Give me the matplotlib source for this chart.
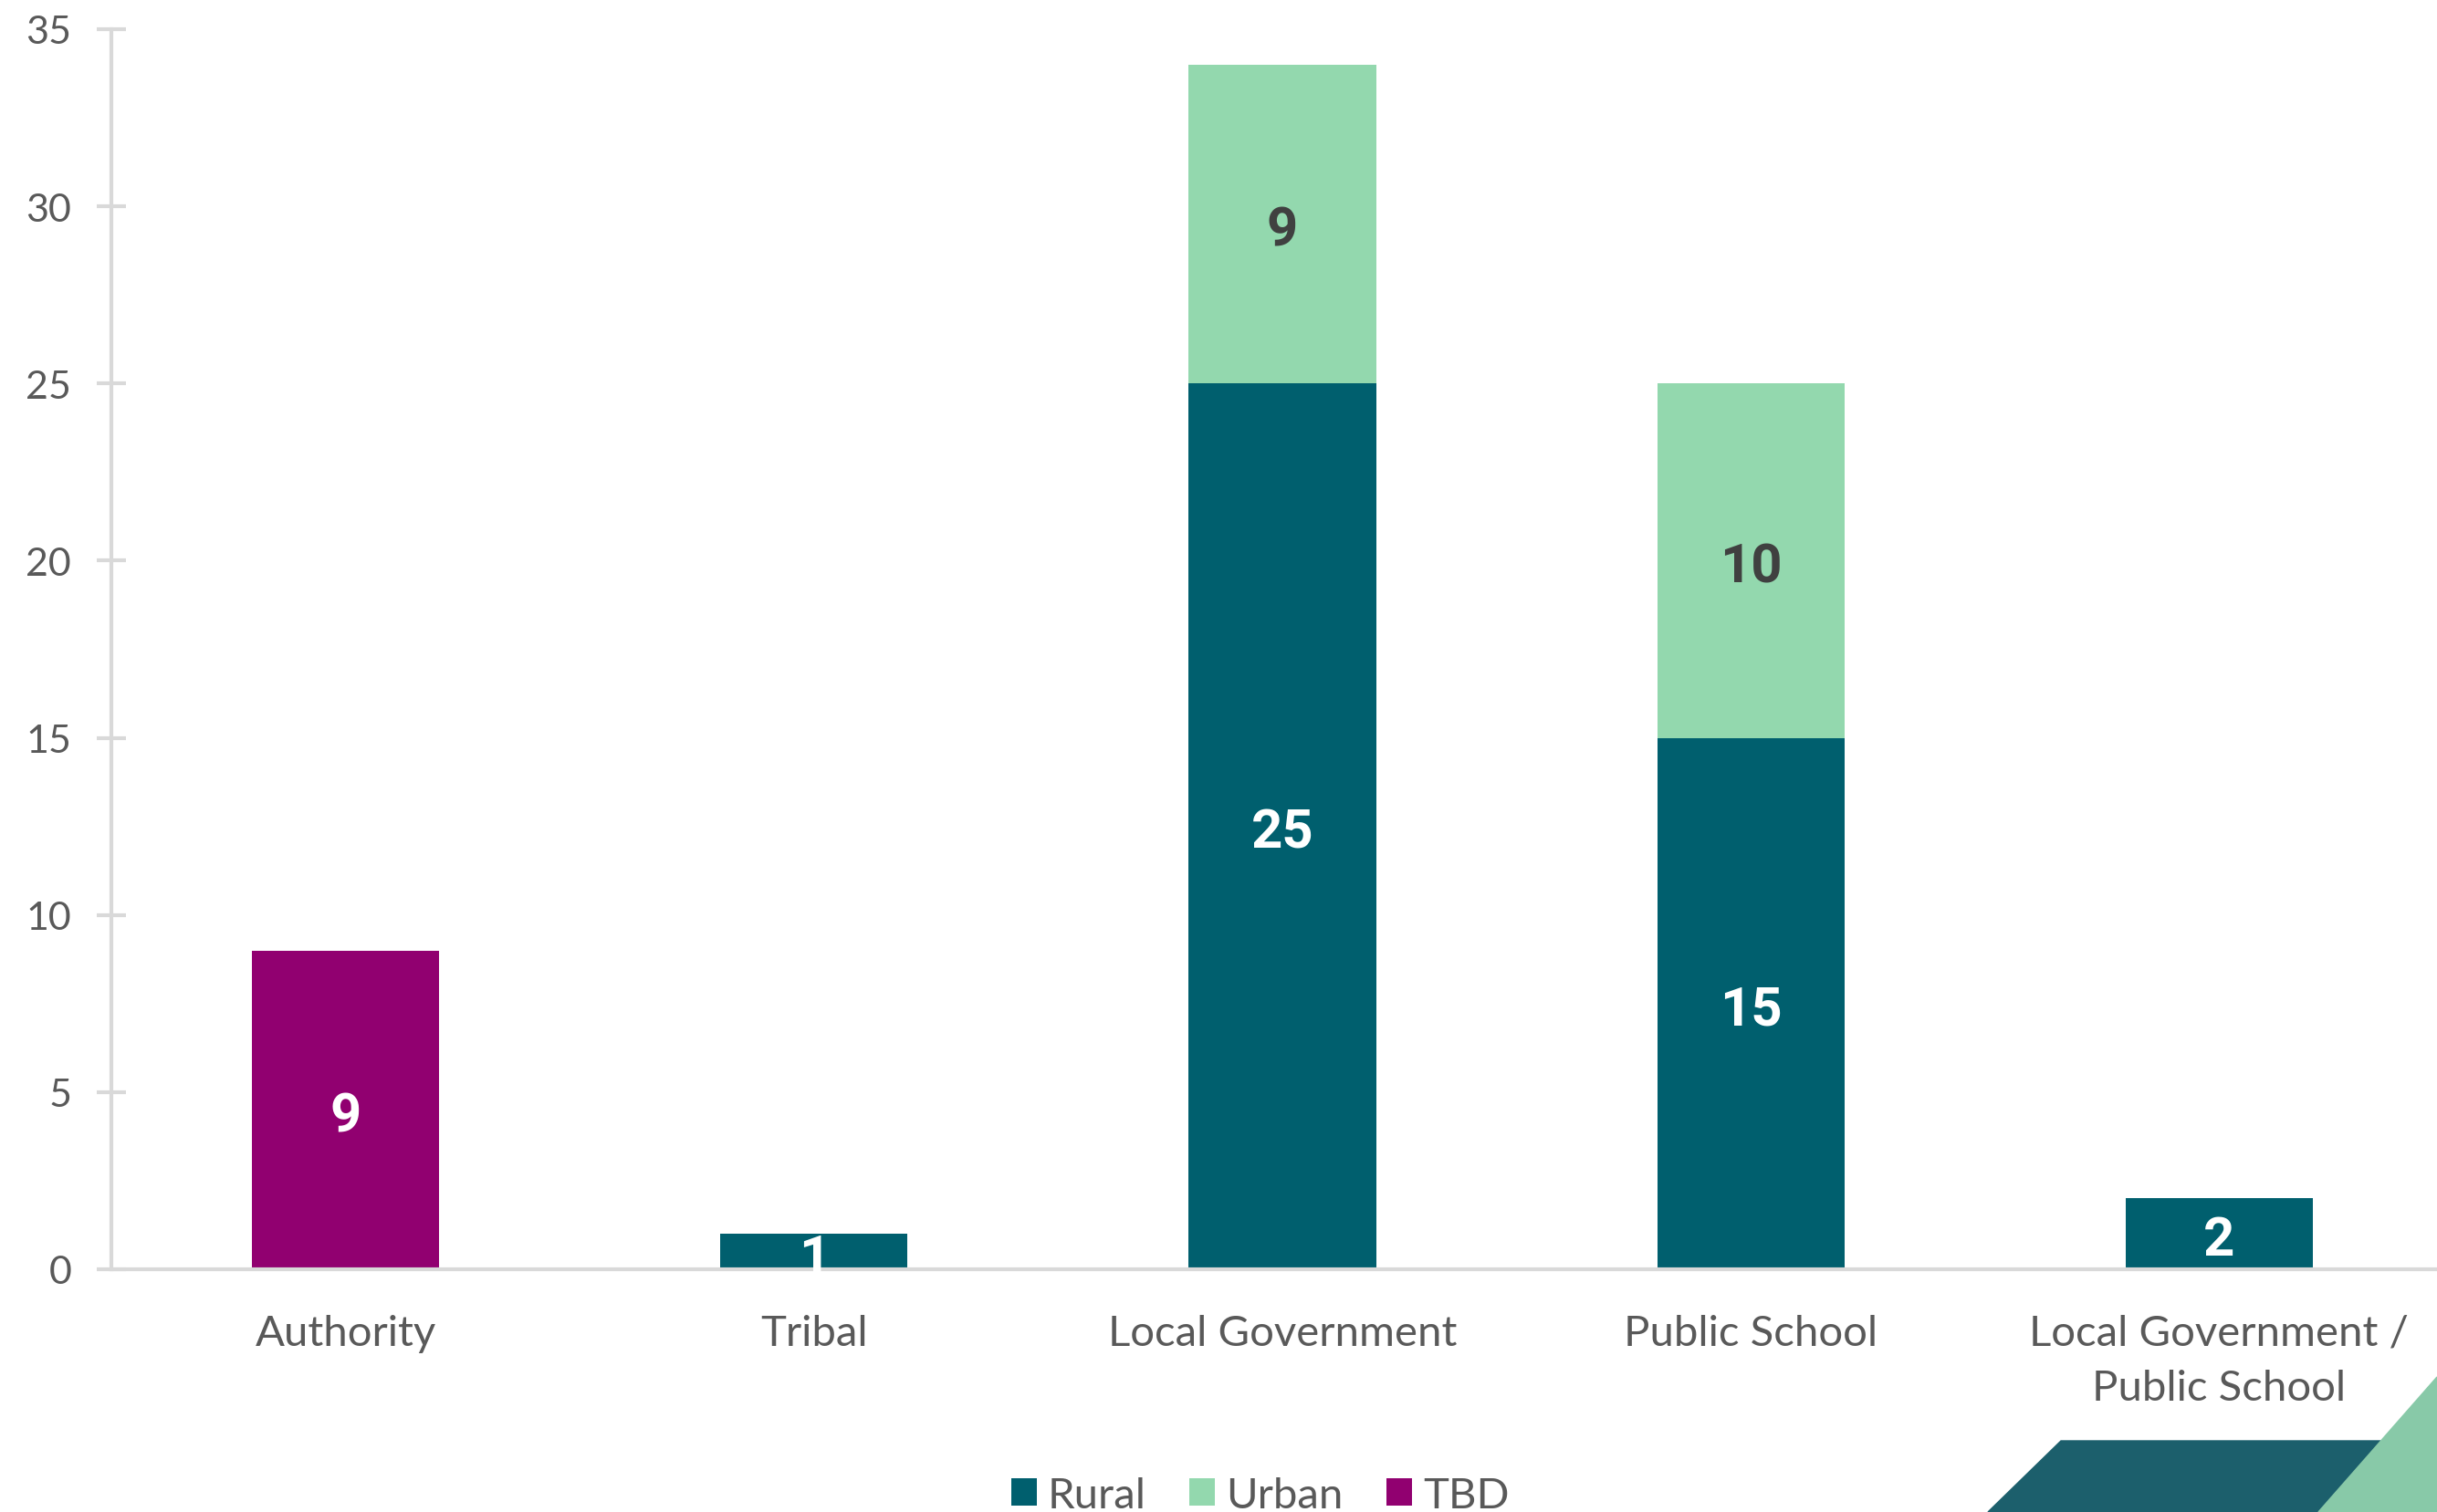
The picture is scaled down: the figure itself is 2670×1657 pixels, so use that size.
import numpy as np
import matplotlib
matplotlib.use("Agg")
import matplotlib.pyplot as plt
from matplotlib.patches import Polygon

# data
categories = ["Authority", "Tribal", "Local Government", "Public School",
              "Local Government /\nPublic School"]
rural = [0, 1, 25, 15, 2]
urban = [0, 0, 9, 10, 0]
tbd = [9, 0, 0, 0, 0]

c_rural = "#005F6E"
c_urban = "#93D8AE"
c_tbd = "#910070"
c_text = "#595959"
c_axis = "#D9D9D9"

plt.rcParams['font.family'] = ['Lato', 'DejaVu Sans']

fig = plt.figure(figsize=(26.70, 16.58), dpi=100)
ax = fig.add_axes([122 / 2670, 266 / 1658, 2566 / 2670, 1359 / 1658])

x = np.arange(len(categories))
w = 0.40
rural = np.array(rural)
urban = np.array(urban)
tbd = np.array(tbd)

b1 = ax.bar(x, rural, w, color=c_rural, label="Rural")
b2 = ax.bar(x, urban, w, bottom=rural, color=c_urban, label="Urban")
b3 = ax.bar(x, tbd, w, bottom=rural + urban, color=c_tbd, label="TBD")

# value labels
for bars, vals, bottoms, col in [(b1, rural, np.zeros(5), "white"),
                                  (b2, urban, rural, "#404040"),
                                  (b3, tbd, rural + urban, "white")]:
    for xi, v, b in zip(x, vals, bottoms):
        if v > 0:
            ax.annotate(str(v), (xi, b + v / 2), xytext=(0, -5),
                        textcoords="offset points", ha="center", va="center",
                        color=col, fontsize=43, fontweight="bold",
                        family=["Roboto", "DejaVu Sans"])

ax.set_xlim(-0.5, 4.5)
ax.set_ylim(0, 35)
ax.set_yticks(range(0, 36, 5))
ax.set_xticks(x)
ax.set_xticklabels(categories, fontsize=34, color=c_text, linespacing=1.55)

for s in ["top", "right"]:
    ax.spines[s].set_visible(False)
for s in ["left", "bottom"]:
    ax.spines[s].set_color(c_axis)
    ax.spines[s].set_linewidth(3)

ax.tick_params(axis="y", direction="inout", length=23, width=3, color=c_axis,
               labelsize=31, labelcolor=c_text, pad=20)
ax.tick_params(axis="x", length=0, pad=35)

fig.legend(handles=[b1, b2, b3], loc="center", bbox_to_anchor=(0.517, 0.011),
           ncol=3, frameon=False, fontsize=34, labelcolor=c_text,
           handlelength=0.6, handleheight=0.6, handletextpad=0.25,
           columnspacing=1.0)

# decorative corner shapes
dark = Polygon([(2178 / 2670, 0), (2258 / 2670, 78 / 1658),
                (2608 / 2670, 78 / 1658), (2540 / 2670, 0)],
               closed=True, transform=fig.transFigure, color="#1C5F6C",
               zorder=0)
light = Polygon([(2540 / 2670, 0), (1.0, 148 / 1658), (1.0, 0)],
                closed=True, transform=fig.transFigure, color="#88C9A8",
                zorder=0)
fig.patches.extend([dark, light])

fig.savefig("out.png", dpi=100)
